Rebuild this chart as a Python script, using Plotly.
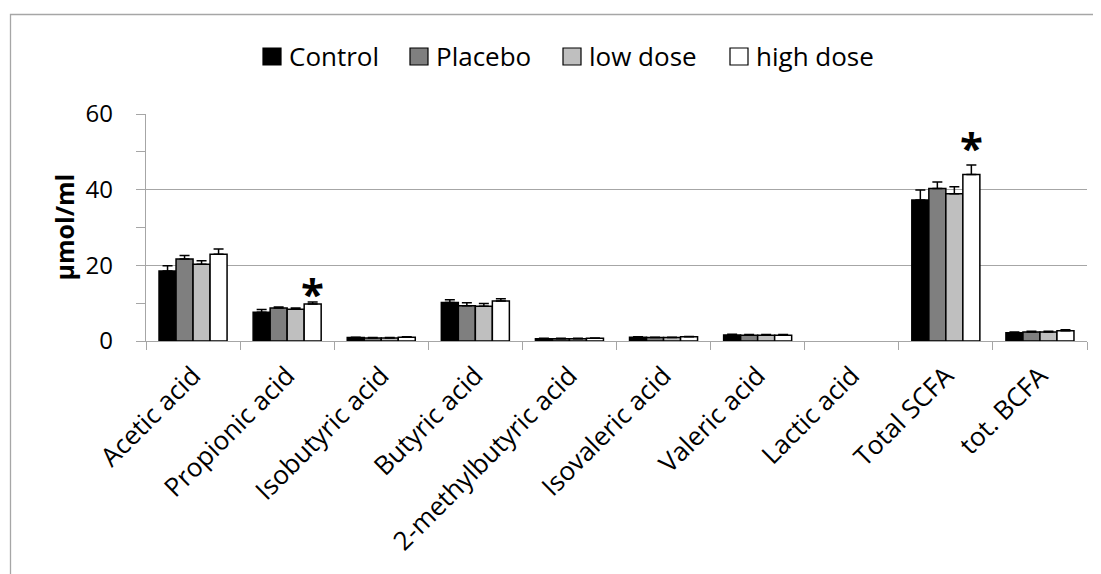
import plotly.graph_objects as go

categories = ["Acetic acid", "Propionic acid", "Isobutyric acid", "Butyric acid",
              "2-methylbutyric acid", "Isovaleric acid", "Valeric acid", "Lactic acid",
              "Total SCFA", "tot. BCFA"]
series_names = ["Control", "Placebo", "low dose", "high dose"]
series_colors = ["#000000", "#7f7f7f", "#bfbfbf", "#ffffff"]

control = [18.5, 7.6, 0.9, 10.2, 0.6, 1.0, 1.6, None, 37.3, 2.2]
placebo = [21.7, 8.7, 0.8, 9.3, 0.6, 0.9, 1.5, None, 40.3, 2.4]
low_dose = [20.3, 8.4, 0.8, 9.2, 0.6, 0.9, 1.5, None, 38.9, 2.4]
high_dose = [22.9, 9.8, 1.0, 10.6, 0.7, 1.1, 1.5, None, 44.0, 2.7]

control_err = [1.4, 0.7, 0.1, 0.7, 0.1, 0.1, 0.2, 0, 2.6, 0.2]
placebo_err = [0.9, 0.3, 0.1, 0.8, 0.1, 0.1, 0.2, 0, 1.7, 0.2]
low_dose_err = [0.9, 0.3, 0.1, 0.7, 0.1, 0.1, 0.2, 0, 1.9, 0.2]
high_dose_err = [1.4, 0.5, 0.1, 0.6, 0.1, 0.1, 0.2, 0, 2.5, 0.3]

sig_categories = ["Propionic acid", "Total SCFA"]
sig_y = [12.9, 51.3]

y_ticks = [0, 20, 40, 60]
y_title = "µmol/ml"

values = [control, placebo, low_dose, high_dose]
errors = [control_err, placebo_err, low_dose_err, high_dose_err]

FONT = "Open Sans"
FIG_W, FIG_H = 1101, 574
OFF = 8  # page body margin: figure origin sits 8px right/down of the window origin

fig = go.Figure()
for name, col, vals, errs in zip(series_names, series_colors, values, errors):
    fig.add_trace(go.Bar(
        name=name, x=categories, y=vals,
        marker=dict(color=col, line=dict(color="#000000", width=1.5)),
        error_y=dict(type="data", array=errs, arrayminus=[0] * len(errs),
                     symmetric=False, color="#000000", thickness=1.5, width=5),
        showlegend=False,
    ))

# plot-area geometry in window pixels
L, R, T, B = 146, 1087, 114, 341
W, H = R - L, B - T


def px(xp):
    return (xp - L) / W


def py(yp):
    return (B - yp) / H


shapes = []
annotations = []

# outer chart frame
shapes.append(dict(type="rect", xref="paper", yref="paper",
                   x0=px(10.5), x1=px(1300), y0=py(14.5), y1=py(800),
                   line=dict(color="#a6a6a6", width=1.3), fillcolor="rgba(0,0,0,0)",
                   layer="below"))

# manual legend
legend_box_x = [263, 410, 563, 730]
for name, col, bx in zip(series_names, series_colors, legend_box_x):
    shapes.append(dict(type="rect", xref="paper", yref="paper",
                       x0=px(bx), x1=px(bx + 18), y0=py(65), y1=py(48),
                       line=dict(color="#000000", width=1.2), fillcolor=col))
    annotations.append(dict(xref="paper", yref="paper", x=px(bx + 24), y=py(56),
                            xanchor="left", yanchor="middle", showarrow=False,
                            text=name, font=dict(family=FONT, size=26, color="#000000")))

# y-axis title
annotations.append(dict(xref="paper", yref="paper", x=px(63), y=0.5,
                        xanchor="center", yanchor="middle", showarrow=False,
                        textangle=-90, text="<b>" + y_title + "</b>",
                        font=dict(family=FONT, size=25, color="#000000")))

# significance asterisks on the high-dose bars
bar_w = W / len(categories) * (1 - 0.277) / 4
for c, yv in zip(sig_categories, sig_y):
    annotations.append(dict(x=c, y=yv, xref="x", yref="y", xshift=1.5 * bar_w,
                            xanchor="center", yanchor="middle", showarrow=False,
                            text="<b>*</b>", font=dict(family=FONT, size=42, color="#000000")))

fig.update_layout(
    width=FIG_W, height=FIG_H,
    margin=dict(l=L - OFF, r=FIG_W - (R - OFF), t=T - OFF, b=FIG_H - (B - OFF), autoexpand=False),
    paper_bgcolor="#ffffff", plot_bgcolor="#ffffff",
    barmode="group", bargap=0.277, bargroupgap=0,
    font=dict(family=FONT, color="#000000"),
    shapes=shapes, annotations=annotations,
    showlegend=False,
)
fig.update_xaxes(
    type="category", tickangle=-45, tickfont=dict(family=FONT, size=26),
    showline=True, linecolor="#a6a6a6", linewidth=1.3,
    ticks="outside", tickson="boundaries", ticklen=8, tickcolor="#a6a6a6", tickwidth=1.3,
    ticklabelstandoff=8,
    showgrid=False, zeroline=False,
)
fig.update_yaxes(
    range=[0, 60], tickvals=y_ticks, ticktext=[str(v) for v in y_ticks],
    tickfont=dict(family=FONT, size=24),
    showline=True, linecolor="#a6a6a6", linewidth=1.3,
    ticks="outside", ticklen=9, tickcolor="#a6a6a6", tickwidth=1.3,
    ticklabelstandoff=18,
    minor=dict(tickvals=[10, 30, 50], ticks="outside", ticklen=9,
               tickcolor="#a6a6a6", tickwidth=1.3, showgrid=False),
    showgrid=True, gridcolor="#a6a6a6", gridwidth=1.3, zeroline=False,
)

fig.write_html("out.html")
